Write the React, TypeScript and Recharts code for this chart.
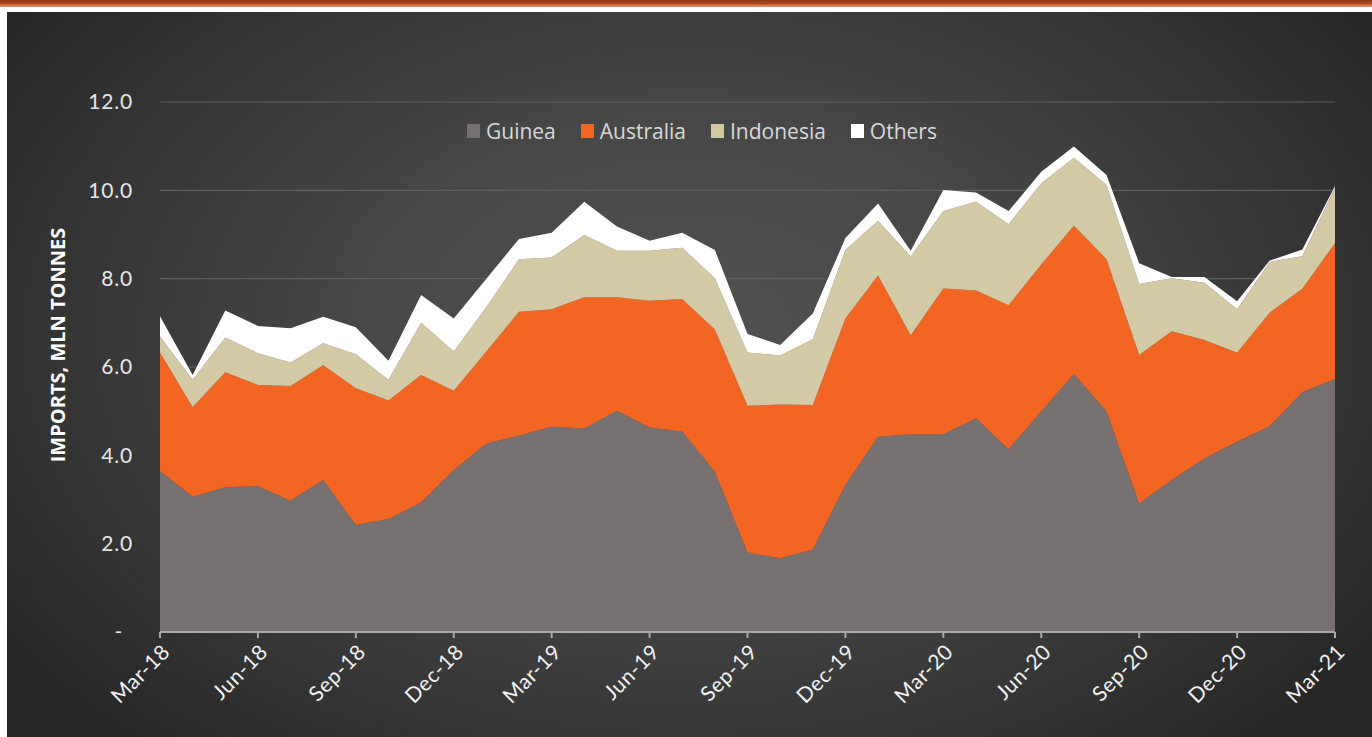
import * as React from "react";
import { AreaChart, Area, XAxis, YAxis, CartesianGrid } from "recharts";

// ── Data ───────────────────────────────────────────────────────────────
const months = [
  "Mar-18", "Apr-18", "May-18", "Jun-18", "Jul-18", "Aug-18", "Sep-18", "Oct-18", "Nov-18",
  "Dec-18", "Jan-19", "Feb-19", "Mar-19", "Apr-19", "May-19", "Jun-19", "Jul-19", "Aug-19",
  "Sep-19", "Oct-19", "Nov-19", "Dec-19", "Jan-20", "Feb-20", "Mar-20", "Apr-20", "May-20",
  "Jun-20", "Jul-20", "Aug-20", "Sep-20", "Oct-20", "Nov-20", "Dec-20", "Jan-21", "Feb-21",
  "Mar-21",
];

const guinea = [
  3.64, 3.06, 3.28, 3.3, 2.97, 3.44, 2.42, 2.56, 2.93, 3.67, 4.27, 4.45, 4.65, 4.61, 5.01, 4.63,
  4.54, 3.63, 1.8, 1.67, 1.87, 3.33, 4.42, 4.48, 4.48, 4.84, 4.14, 4.99, 5.84, 4.99, 2.91, 3.44,
  3.93, 4.31, 4.66, 5.43, 5.73,
];
const australia = [
  2.69, 2.03, 2.6, 2.29, 2.6, 2.6, 3.1, 2.68, 2.89, 1.79, 2.08, 2.8, 2.66, 2.97, 2.57, 2.87, 3.0,
  3.22, 3.32, 3.48, 3.27, 3.77, 3.65, 2.24, 3.3, 2.89, 3.26, 3.33, 3.36, 3.45, 3.36, 3.37, 2.68,
  2.01, 2.57, 2.34, 3.07,
];
const indonesia = [
  0.36, 0.62, 0.79, 0.72, 0.53, 0.5, 0.77, 0.47, 1.18, 0.89, 1.01, 1.19, 1.17, 1.41, 1.05, 1.13,
  1.16, 1.16, 1.21, 1.11, 1.49, 1.55, 1.24, 1.78, 1.75, 2.01, 1.83, 1.84, 1.54, 1.68, 1.61, 1.2,
  1.3, 0.99, 1.15, 0.74, 1.27,
];
const others = [
  0.46, 0.11, 0.61, 0.62, 0.78, 0.6, 0.61, 0.43, 0.63, 0.75, 0.64, 0.46, 0.56, 0.75, 0.55, 0.23,
  0.34, 0.64, 0.42, 0.24, 0.58, 0.27, 0.39, 0.13, 0.48, 0.21, 0.3, 0.26, 0.25, 0.23, 0.47, 0.03,
  0.13, 0.18, 0.03, 0.15, 0.03,
];

const yTicks = [0, 2, 4, 6, 8, 10, 12];

const series = [
  { key: "guinea", name: "Guinea", color: "#767170" },
  { key: "australia", name: "Australia", color: "#f26522" },
  { key: "indonesia", name: "Indonesia", color: "#d3c9a4" },
  { key: "others", name: "Others", color: "#ffffff" },
];

const data = months.map((m, i) => ({
  month: m,
  guinea: guinea[i],
  australia: australia[i],
  indonesia: indonesia[i],
  others: others[i],
}));

const TICK_FONT = "Lato, 'Open Sans', sans-serif";

// ── Ticks ──────────────────────────────────────────────────────────────
function XTick({ x, y, payload }: any) {
  return (
    <g transform={`translate(${x + 6},${y + 8})`}>
      <text
        x={0}
        y={0}
        dy="0.35em"
        textAnchor="end"
        transform="rotate(-45)"
        fill="#f2f2f2"
        fontSize={21}
        letterSpacing={0.6}
        fontFamily={TICK_FONT}
      >
        {payload.value}
      </text>
    </g>
  );
}

function YTick({ x, y, payload }: any) {
  const v = payload.value as number;
  return (
    <text
      x={v === 0 ? x - 10 : x}
      y={y}
      dy="0.35em"
      textAnchor="end"
      fill="#e6e6e6"
      fontSize={21}
      letterSpacing={0.8}
      fontFamily={TICK_FONT}
    >
      {v === 0 ? "-" : v.toFixed(1)}
    </text>
  );
}

// ── Component ──────────────────────────────────────────────────────────
export default function App() {
  return (
    <div style={{ position: "absolute", left: 0, top: 0, width: 1372, height: 737, background: "#ffffff", overflow: "hidden" }}>
      {/* header bar */}
      <div
        style={{
          position: "absolute",
          left: 0,
          top: 0,
          width: 1372,
          height: 7,
          background: "linear-gradient(to bottom, #8c3a16 0%, #b04c20 50%, #f39a6e 100%)",
        }}
      />
      {/* dark panel */}
      <div
        style={{
          position: "absolute",
          left: 7,
          top: 12,
          width: 1365,
          height: 725,
          background:
            "radial-gradient(ellipse 60% 75% at 50% 45%, #515151 0%, #474747 40%, #363636 75%, #272727 100%)",
        }}
      />
      {/* axis title */}
      <div
        style={{
          position: "absolute",
          left: 57,
          top: 345,
          transform: "translate(-50%, -50%) rotate(-90deg)",
          whiteSpace: "nowrap",
          color: "#ffffff",
          fontFamily: "'Open Sans', sans-serif",
          fontWeight: 700,
          fontSize: 20,
        }}
      >
        IMPORTS, MLN TONNES
      </div>
      {/* legend */}
      <div
        style={{
          position: "absolute",
          left: 467,
          top: 117,
          display: "flex",
          alignItems: "center",
          fontFamily: "'Open Sans', sans-serif",
          fontSize: 21,
          color: "#d9d9d9",
        }}
      >
        {series.map((s) => (
          <div key={s.key} style={{ display: "flex", alignItems: "center", marginRight: 25 }}>
            <span style={{ display: "inline-block", width: 13, height: 14, background: s.color, marginRight: 6 }} />
            <span>{s.name}</span>
          </div>
        ))}
      </div>
      <div style={{ position: "absolute", left: 0, top: 0 }}>
        <AreaChart
          width={1372}
          height={737}
          data={data}
          margin={{ top: 102, right: 37, bottom: 0, left: 0 }}
        >
          <CartesianGrid horizontal vertical={false} stroke="#5e5e5e" strokeWidth={1.2} />
          <XAxis
            dataKey="month"
            interval={2}
            height={105}
            axisLine={{ stroke: "#a8a8a8", strokeWidth: 2 }}
            tickLine={{ stroke: "#a8a8a8", strokeWidth: 2 }}
            tickSize={6}
            tick={<XTick />}
          />
          <YAxis
            type="number"
            domain={[0, 12]}
            ticks={yTicks}
            width={160}
            axisLine={false}
            tickLine={false}
            tickSize={0}
            tickMargin={27}
            tick={<YTick />}
          />
          {series.map((s) => (
            <Area
              key={s.key}
              type="linear"
              dataKey={s.key}
              name={s.name}
              stackId="1"
              stroke="none"
              fill={s.color}
              fillOpacity={1}
              isAnimationActive={false}
            />
          ))}
        </AreaChart>
      </div>
    </div>
  );
}
